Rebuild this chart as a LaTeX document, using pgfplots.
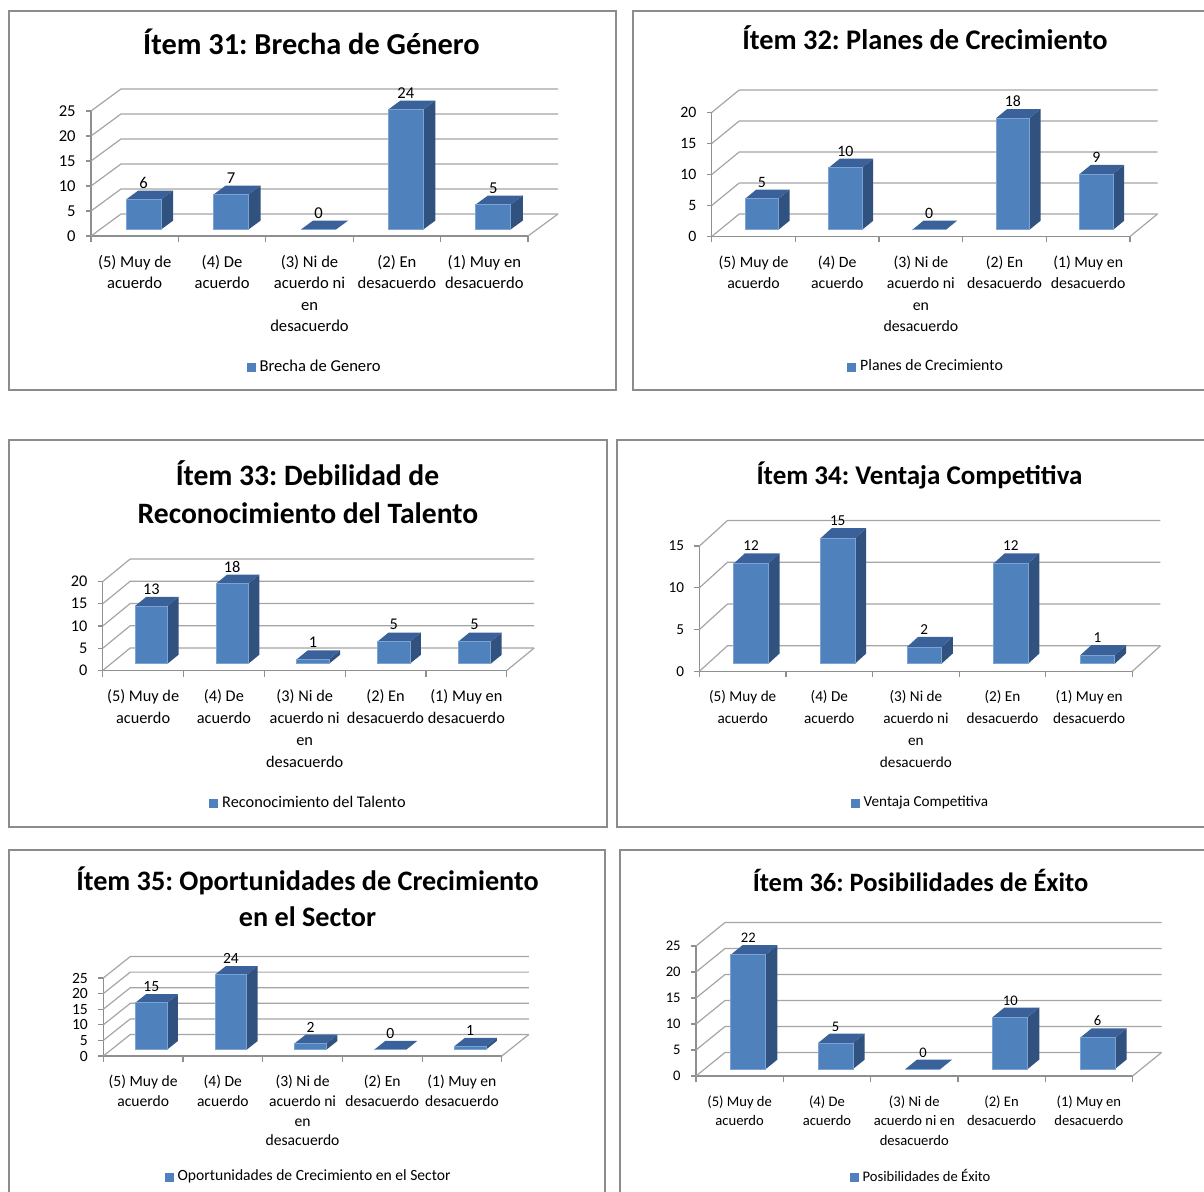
\documentclass[border=0pt]{standalone}
\usepackage{fontspec}
\setmainfont{Carlito}
\usepackage{pgfplots}
\usepackage{pgfplotstable}
\pgfplotsset{compat=1.18}

\definecolor{barfront}{HTML}{4F81BD}
\definecolor{barside}{HTML}{31517E}
\definecolor{bartop}{HTML}{3A6199}
\definecolor{baredge}{HTML}{7BA3D4}
\definecolor{gridc}{HTML}{A5A5A5}
\definecolor{axisc}{HTML}{8F8F8F}
\definecolor{framec}{HTML}{8C8C8C}

% answers per item: category index (0 = Muy de acuerdo ... 4 = Muy en desacuerdo), count
\pgfplotstableread{
cat v
0 6
1 7
2 0
3 24
4 5
}\itemA
\pgfplotstableread{
cat v
0 5
1 10
2 0
3 18
4 9
}\itemB
\pgfplotstableread{
cat v
0 13
1 18
2 1
3 5
4 5
}\itemC
\pgfplotstableread{
cat v
0 12
1 15
2 2
3 12
4 1
}\itemD
\pgfplotstableread{
cat v
0 15
1 24
2 2
3 0
4 1
}\itemE
\pgfplotstableread{
cat v
0 22
1 5
2 0
3 10
4 6
}\itemF

% geometry of one 3-D column panel, in pixels (1px = 0.5pt):
% #1 width of a category, #2 height of one unit, #3/#4 depth vector (right/up),
% #5 font size (pt), #6 line spacing (pt)
\newcommand\setgeom[6]{%
  \pgfmathsetmacro\gunit{#2*0.5}%
  \pgfmathsetmacro\gw{0.2*#1*0.5}%
  \pgfmathsetmacro\gox{0.3*#3*0.5}%
  \pgfmathsetmacro\goy{0.3*#4*0.5}%
  \pgfmathsetmacro\gdx{0.4*#3*0.5}%
  \pgfmathsetmacro\gdy{0.4*#4*0.5}%
  \pgfmathsetlengthmacro\gDx{#3*0.5}%
  \pgfmathsetlengthmacro\gDy{#4*0.5}%
  \pgfmathsetlengthmacro\gLx{0.3*#3*0.5}%
  \pgfmathsetlengthmacro\gLy{0.7*#4*0.5+1}%
  \pgfmathsetlengthmacro\gxu{#1*0.5}%
  \pgfmathsetlengthmacro\gyu{#2*0.5}%
  \def\gfs{#5}\def\gbs{#6}%
}

% a column seen in oblique view: front, side and top faces,
% hung from the data point (i, v)
\pgfdeclareplotmark{prism}{%
  \pgfmathsetmacro\pkh{\barval*\gunit}%
  \pgfmathsetmacro\pkxl{\gox-\gw}%
  \pgfmathsetmacro\pkxr{\gox+\gw}%
  \pgfmathsetmacro\pkxs{\gox+\gw+\gdx}%
  \pgfmathsetmacro\pkxt{\gox-\gw+\gdx}%
  \pgfmathsetmacro\pkyt{\goy}%
  \pgfmathsetmacro\pkyb{\goy-\pkh}%
  \pgfmathsetmacro\pkytt{\goy+\gdy}%
  \pgfmathsetmacro\pkybb{\goy-\pkh+\gdy}%
  \pgfpathmoveto{\pgfqpoint{\pkxr pt}{\pkyt pt}}%
  \pgfpathlineto{\pgfqpoint{\pkxs pt}{\pkytt pt}}%
  \pgfpathlineto{\pgfqpoint{\pkxs pt}{\pkybb pt}}%
  \pgfpathlineto{\pgfqpoint{\pkxr pt}{\pkyb pt}}%
  \pgfpathclose
  \pgfsetfillcolor{barside}\pgfusepath{fill}%
  \pgfpathmoveto{\pgfqpoint{\pkxl pt}{\pkyt pt}}%
  \pgfpathlineto{\pgfqpoint{\pkxr pt}{\pkyt pt}}%
  \pgfpathlineto{\pgfqpoint{\pkxs pt}{\pkytt pt}}%
  \pgfpathlineto{\pgfqpoint{\pkxt pt}{\pkytt pt}}%
  \pgfpathclose
  \pgfsetfillcolor{bartop}\pgfusepath{fill}%
  \pgfpathrectanglecorners{\pgfqpoint{\pkxl pt}{\pkyb pt}}{\pgfqpoint{\pkxr pt}{\pkyt pt}}%
  \pgfsetfillcolor{barfront}\pgfsetstrokecolor{baredge}\pgfsetlinewidth{0.4pt}%
  \pgfusepath{fill,stroke}%
}

% back wall and side wall grid lines, floor edge
\newcommand\drawwalls[2]{%
  \pgfplotsinvokeforeach{0,#2,...,#1}{%
    \draw[gridc, line width=0.6pt] (axis cs:-0.5,##1) -- ++(\gDx,\gDy)
      -- ([shift={(\gDx,\gDy)}]axis cs:4.5,##1);
  }%
  \draw[gridc, line width=0.6pt] (axis cs:4.5,0) -- ++(\gDx,\gDy);
}

\pgfplotsset{
  /pgf/number format/assume math mode=true,
  panel/.style={
    anchor=south west, clip=false, enlargelimits=false,
    x=\gxu, y=\gyu,
    xmin=-0.5, xmax=4.5, ymin=0,
    axis lines*=left,
    axis line style={axisc, line width=0.6pt},
    tick align=outside,
    xtick={0,...,4},
    major x tick style={draw=none},
    minor xtick={-0.5,0.5,...,4.5},
    minor x tick style={axisc, line width=0.6pt},
    minor tick length=3pt,
    y tick style={axisc, line width=0.6pt},
    major tick length=2.5pt,
    tick label style={font=\fontsize{\gfs}{\gbs}\selectfont},
    xticklabel style={align=center, anchor=north, inner sep=0pt, yshift=-7pt},
    yticklabel style={anchor=east, inner sep=0pt, xshift=-5pt},
    xticklabels={{(5) Muy de\\acuerdo},{(4) De\\acuerdo},{(3) Ni de\\acuerdo ni\\en\\desacuerdo},{(2) En\\desacuerdo},{(1) Muy en\\desacuerdo}},
    legend style={anchor=center, draw=none, fill=none, inner sep=0pt, yshift=-1pt,
      font=\fontsize{\gfs}{\gbs}\selectfont, legend cell align=left},
  },
  prismbars/.style={
    only marks, mark=prism,
    visualization depends on={rawy \as \barval},
    nodes near coords,
    every node near coord/.append style={anchor=south, inner sep=0pt,
      xshift=\gLx, yshift=\gLy, font=\fontsize{\gfs}{\gbs}\selectfont},
    legend image code/.code={\fill[barfront] (0pt,-2pt) rectangle (4pt,2pt);},
  },
}

\begin{document}
\frenchspacing
\begin{tikzpicture}
\useasboundingbox (0,0) rectangle (602pt,-596pt);
\clip (0,0) rectangle (602pt,-596pt);

\begin{scope}[x=0.5pt, y=-0.5pt, framec, line width=0.6pt]
  \draw (9,11) rectangle (616,390);
  \draw (633,11) rectangle (1215,390);
  \draw (9,440) rectangle (607,827);
  \draw (617,440) rectangle (1215,827);
  \draw (9,850) rectangle (605,1205);
  \draw (620,850) rectangle (1215,1205);
\end{scope}

\begin{scope}[x=0.5pt, y=-0.5pt]
  \node[anchor=base, font=\bfseries\fontsize{15.2}{18}\selectfont] at (311.5,55) {Ítem 31: Brecha de Género};
  \node[anchor=base, font=\bfseries\fontsize{14.2}{18}\selectfont] at (925,50) {Ítem 32: Planes de Crecimiento};
  \node[anchor=base, font=\bfseries\fontsize{14.8}{18}\selectfont] at (307.5,485) {Ítem 33: Debilidad de};
  \node[anchor=base, font=\bfseries\fontsize{14.8}{18}\selectfont] at (308,523) {Reconocimiento del Talento};
  \node[anchor=base, font=\bfseries\fontsize{13.5}{18}\selectfont] at (919.5,484) {Ítem 34: Ventaja Competitiva};
  \node[anchor=base, font=\bfseries\fontsize{14.1}{18}\selectfont] at (307.5,890) {Ítem 35: Oportunidades de Crecimiento};
  \node[anchor=base, font=\bfseries\fontsize{14.1}{18}\selectfont] at (307.5,926) {en el Sector};
  \node[anchor=base, font=\bfseries\fontsize{13.25}{18}\selectfont] at (920.5,891) {Ítem 36: Posibilidades de Éxito};
\end{scope}

% Item 31
\setgeom{87.4}{5.0}{30}{22}{8.3}{10.7}
\begin{axis}[panel, at={(91*0.5pt,-236*0.5pt)}, ymax=25, ytick={0,5,...,25},
  legend style={at={(0.514,-1.032)}}]
  \drawwalls{25}{5}
  \addplot[prismbars] table[x=cat, y=v] {\itemA};
  \addlegendentry{Brecha de Genero}
\end{axis}

% Item 32
\setgeom{83.66}{6.2}{27.5}{22.5}{7.9}{10.7}
\begin{axis}[panel, at={(711.7*0.5pt,-236.5*0.5pt)}, ymax=20, ytick={0,5,...,20},
  legend style={at={(0.515,-1.036)}}]
  \drawwalls{20}{5}
  \addplot[prismbars] table[x=cat, y=v] {\itemB};
  \addlegendentry{Planes de Crecimiento}
\end{axis}

% Item 33
\setgeom{80.8}{4.45}{27.5}{22.5}{8.15}{11}
\begin{axis}[panel, at={(102.7*0.5pt,-670.5*0.5pt)}, ymax=20, ytick={0,5,...,20},
  legend style={at={(0.512,-1.466)}}]
  \drawwalls{20}{5}
  \addplot[prismbars] table[x=cat, y=v] {\itemC};
  \addlegendentry{Reconocimiento del Talento}
\end{axis}

% Item 34
\setgeom{86.6}{8.35}{28}{25.5}{7.6}{11}
\begin{axis}[panel, at={(699.4*0.5pt,-671.3*0.5pt)}, ymax=15, ytick={0,5,...,15},
  legend style={at={(0.513,-1.036)}}]
  \drawwalls{15}{5}
  \addplot[prismbars] table[x=cat, y=v] {\itemD};
  \addlegendentry{Ventaja Competitiva}
\end{axis}

% Item 35
\setgeom{79.7}{3.12}{27}{21.5}{7.8}{9.85}
\begin{axis}[panel, at={(103.3*0.5pt,-1056*0.5pt)}, ymax=25, ytick={0,5,...,25},
  legend style={at={(0.518,-1.526)}}]
  \drawwalls{25}{5}
  \addplot[prismbars] table[x=cat, y=v] {\itemE};
  \addlegendentry{Oportunidades de Crecimiento en el Sector}
\end{axis}

% Item 36
\setgeom{87.3}{5.2}{29}{23.5}{7.3}{9.75}
\begin{axis}[panel, at={(696*0.5pt,-1076*0.5pt)}, ymax=25, ytick={0,5,...,25},
  xticklabels={{(5) Muy de\\acuerdo},{(4) De\\acuerdo},{(3) Ni de\\acuerdo ni en\\desacuerdo},{(2) En\\desacuerdo},{(1) Muy en\\desacuerdo}},
  legend style={at={(0.518,-0.762)}}]
  \drawwalls{25}{5}
  \addplot[prismbars] table[x=cat, y=v] {\itemF};
  \addlegendentry{Posibilidades de Éxito}
\end{axis}
\end{tikzpicture}
\end{document}
